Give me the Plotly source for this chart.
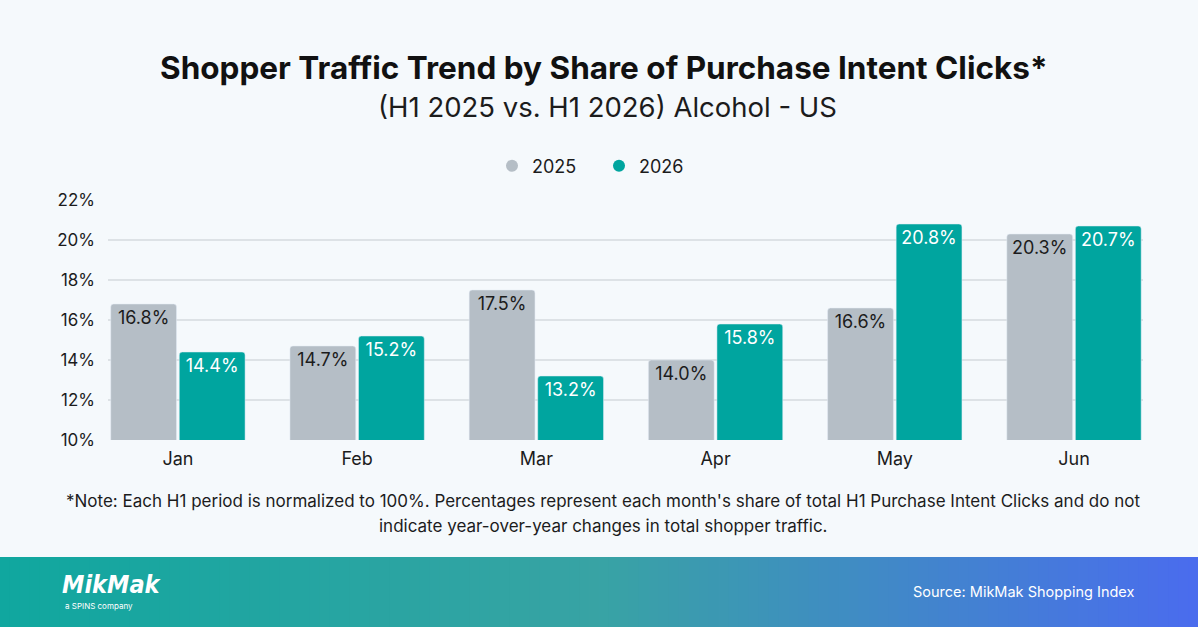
import plotly.graph_objects as go

months = ["Jan", "Feb", "Mar", "Apr", "May", "Jun"]
share_2025 = [16.8, 14.7, 17.5, 14.0, 16.6, 20.3]
share_2026 = [14.4, 15.2, 13.2, 15.8, 20.8, 20.7]
y_ticks = [10, 12, 14, 16, 18, 20, 22]

W, H = 1198, 627
FONT = "Inter"
GRAY = "#b5bec6"
TEAL = "#00a59f"
BG = "#f5f9fc"


def px_x(x):
    return x / W


def px_y(y):
    return (H - y) / H


fig = go.Figure()

fig.add_trace(go.Bar(
    name="2025", x=months, y=share_2025, marker=dict(color=GRAY, cornerradius=3),
    text=[f"{v:.1f}%" for v in share_2025], textposition="inside", insidetextanchor="end",
    textfont=dict(family=FONT, size=18, color="#1c1c1c"), constraintext="none",
    showlegend=False, hoverinfo="skip",
))
fig.add_trace(go.Bar(
    name="2026", x=months, y=share_2026, marker=dict(color=TEAL, cornerradius=3),
    text=[f"{v:.1f}%" for v in share_2026], textposition="inside", insidetextanchor="end",
    textfont=dict(family=FONT, size=18, color="#ffffff"), constraintext="none",
    showlegend=False, hoverinfo="skip",
))
# legend entries with circular markers
for name, col in [("2025", GRAY), ("2026", TEAL)]:
    fig.add_trace(go.Scatter(x=[None], y=[None], mode="markers", name=name,
                             marker=dict(color=col, size=19, symbol="circle")))

fig.update_layout(
    width=W, height=H,
    margin=dict(l=0, r=0, t=0, b=0),
    paper_bgcolor=BG, plot_bgcolor=BG,
    barmode="group", bargap=0.235, bargroupgap=0.04,
    font=dict(family=FONT, color="#1c1c1c"),
    showlegend=True,
    legend=dict(orientation="h", x=0.5, xanchor="center", y=px_y(166), yanchor="middle",
                font=dict(family=FONT, size=18, color="#1c1c1c"), bgcolor="rgba(0,0,0,0)",
                itemsizing="constant", itemwidth=30, tracegroupgap=0,
                entrywidth=62, entrywidthmode="pixels"),
    xaxis=dict(domain=[px_x(108), px_x(1143)], range=[-0.39, 5.385], type="category",
               showgrid=False, showline=False, zeroline=False, ticks="",
               tickfont=dict(family=FONT, size=18, color="#1c1c1c"), ticklabelstandoff=6,
               automargin=False, fixedrange=True),
    yaxis=dict(domain=[px_y(440), px_y(200)], range=[10, 22], tickvals=y_ticks,
               ticktext=[f"{t}%" for t in y_ticks], showgrid=True, gridcolor="#dde2e6",
               gridwidth=1.5, zeroline=False, showline=False, ticks="",
               tickfont=dict(family=FONT, size=17, color="#1c1c1c"), ticklabelstandoff=12,
               automargin=False, fixedrange=True),
)

# footer gradient band
N = 120
c0 = (0x10, 0xa7, 0x9f)
c1 = (0x38, 0xa3, 0xa4)
c2 = (0x4a, 0x6c, 0xee)
for i in range(N):
    t = (i + 0.5) / N
    if t < 0.5:
        a, b, s = c0, c1, t / 0.5
    else:
        a, b, s = c1, c2, (t - 0.5) / 0.5
    col = "rgb(%d,%d,%d)" % tuple(round(a[k] + (b[k] - a[k]) * s) for k in range(3))
    fig.add_shape(type="rect", xref="paper", yref="paper",
                  x0=i / N, x1=(i + 1) / N + 0.002, y0=0, y1=px_y(557),
                  fillcolor=col, line=dict(width=0), layer="below")

annos = [
    dict(text="<b>Shopper Traffic Trend by Share of Purchase Intent Clicks*</b>", x=px_x(604), y=px_y(67),
         font=dict(size=31.5, color="#111111")),
    dict(text="(H1 2025 vs. H1 2026) Alcohol - US", x=px_x(607), y=px_y(107),
         font=dict(size=27.5, color="#1c1c1c")),
    dict(text="*Note: Each H1 period is normalized to 100%. Percentages represent each month's share of total H1 Purchase Intent Clicks and do not",
         x=px_x(603), y=px_y(501), font=dict(size=17, color="#1c1c1c")),
    dict(text="indicate year-over-year changes in total shopper traffic.", x=px_x(603), y=px_y(526),
         font=dict(size=17, color="#1c1c1c")),
    dict(text="Source: MikMak Shopping Index", x=px_x(1136), xanchor="right", y=px_y(592),
         font=dict(size=14.5, color="#ffffff")),
    dict(text="<b><i>MikMak</i></b>", x=px_x(60), xanchor="left", y=px_y(584),
         font=dict(family="DejaVu Sans Condensed", size=25, color="#ffffff")),
    dict(text="a SPINS company", x=px_x(63), xanchor="left", y=px_y(606),
         font=dict(size=8, color="#ffffff")),
]
for a in annos:
    a.setdefault("xanchor", "center")
    a["font"].setdefault("family", FONT)
    fig.add_annotation(xref="paper", yref="paper", yanchor="middle", showarrow=False, **a)

fig.write_html("out.html")
